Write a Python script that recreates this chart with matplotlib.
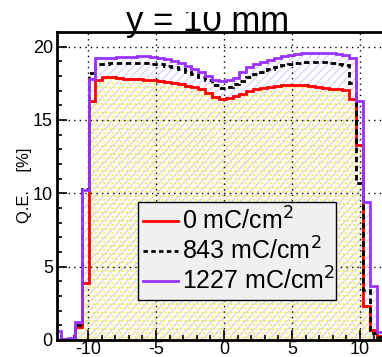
import numpy as np
import matplotlib
matplotlib.use("Agg")
import matplotlib.pyplot as plt
from matplotlib.lines import Line2D
from matplotlib.transforms import Bbox

plt.rcParams['font.family'] = ['Liberation Sans', 'DejaVu Sans']
plt.rcParams['axes.unicode_minus'] = False
plt.rcParams['hatch.linewidth'] = 0.8

# ---- data ----
bin_edges = np.linspace(-12.48, 11.73, 49)

qe_0 = [0.0, 0.05, 0.1, 0.9, 3.9, 16.28, 17.76, 17.9, 17.9, 17.85,
        17.82, 17.8, 17.78, 17.76, 17.72, 17.68, 17.62, 17.55, 17.48, 17.35,
        17.22, 17.1, 16.85, 16.55, 16.4, 16.48, 16.62, 16.8, 16.95, 17.1,
        17.2, 17.28, 17.35, 17.4, 17.42, 17.4, 17.36, 17.3, 17.25, 17.2,
        17.12, 17.1, 17.07, 16.4, 13.3, 2.3, 0.7, 0.3]

qe_843 = [0.05, 0.05, 0.1, 1.0, 10.3, 18.2, 18.8, 18.82, 18.88, 18.9,
          18.9, 18.9, 18.9, 18.88, 18.85, 18.8, 18.7, 18.62, 18.48, 18.3,
          18.15, 17.95, 17.7, 17.4, 17.2, 17.28, 17.45, 17.65, 17.95, 18.15,
          18.3, 18.5, 18.6, 18.72, 18.82, 18.9, 18.93, 18.95, 18.95, 18.93,
          18.9, 18.85, 18.78, 17.5, 10.7, 3.4, 0.5, 0.2]

qe_1227 = [0.6, 0.1, 0.15, 1.2, 10.2, 17.8, 19.2, 19.22, 19.25, 19.28,
           19.3, 19.3, 19.33, 19.33, 19.3, 19.25, 19.15, 19.05, 18.9, 18.7,
           18.5, 18.3, 18.0, 17.75, 17.65, 17.7, 17.85, 18.3, 18.6, 18.8,
           18.95, 19.12, 19.25, 19.35, 19.45, 19.5, 19.55, 19.58, 19.58, 19.58,
           19.55, 19.5, 19.46, 19.24, 16.3, 9.4, 3.7, 0.55]

labels = ["0 mC/cm$^2$", "843 mC/cm$^2$", "1227 mC/cm$^2$"]
x_ticks = [-10, -5, 0, 5, 10]
y_ticks = [0, 5, 10, 15, 20]
title = "y = 10 mm"
ylabel = "Q.E.    [%]"

# ---- figure ----
W, H = 382, 357
fig = plt.figure(figsize=(W / 100, H / 100), dpi=100)
ax_w = 0.86
ax = fig.add_axes([57 / W, 17 / H, ax_w, 308 / H])
ax.set_xlim(-12.28, -12.28 + ax_w * W / 13.6)
ax.set_ylim(0, 21)

red = '#ff0000'
purple = '#9933ff'

# fills
ax.stairs(qe_0, bin_edges, fill=True, facecolor='#fffff4', edgecolor='#f4ee30',
          hatch='....', linewidth=0, zorder=1)
ax.stairs(qe_1227, bin_edges, fill=True, facecolor='none', edgecolor='#d8ccff',
          hatch='////', linewidth=0, zorder=1.5)

# grid
ax.set_xticks(x_ticks)
ax.set_yticks(y_ticks)
ax.grid(True, color='black', linestyle=(0, (1, 3)), linewidth=1.0, zorder=2)
ax.set_axisbelow(False)

# outlines
ax.stairs(qe_0, bin_edges, color=red, linewidth=2.0, zorder=3)
ax.stairs(qe_843, bin_edges, color='black', linewidth=2.0,
          linestyle=(0, (2, 1.3)), zorder=3.2)
ax.stairs(qe_1227, bin_edges, color=purple, linewidth=2.0, zorder=3.4)

ax.set_xticks(np.arange(-12, 12, 1), minor=True)
ax.set_yticks(np.arange(0, 21, 1), minor=True)
ax.set_xticklabels([str(v) for v in x_ticks])
ax.set_yticklabels([str(v) for v in y_ticks])
ax.tick_params(which='major', direction='in', length=7.5, width=1.2,
               labelsize=13, pad=1, top=False, right=False)
ax.tick_params(which='minor', direction='in', length=3.8, width=1.2,
               top=False, right=False)
ax.tick_params(axis='y', which='major', pad=3)
for s in ax.spines.values():
    s.set_linewidth(2.0)
    s.set_zorder(5)

fig.text(25 / W, (H - 185) / H, ylabel, fontsize=12, rotation=90,
         ha='center', va='center')

handles = [Line2D([], [], color=red, lw=2.0),
           Line2D([], [], color='black', lw=2.0, linestyle=(0, (1.6, 1.2))),
           Line2D([], [], color=purple, lw=2.0)]
axw_px = ax_w * W
leg = ax.legend(handles, labels, loc='lower left',
                bbox_to_anchor=((138 - 57) / axw_px, 40 / 308,
                                198 / axw_px, 97 / 308),
                mode='expand', borderaxespad=0, fontsize=18,
                handlelength=1.4, handletextpad=0.15, labelspacing=0.12,
                borderpad=0.2, fancybox=False, framealpha=1,
                facecolor='#f0f0f0', edgecolor='black')
leg.get_frame().set_linewidth(1.0)
leg.set_zorder(6)

t = fig.text(208 / W, (H - 31) / H, title, fontsize=25, ha='center',
             va='baseline', zorder=10)
t.set_clip_box(Bbox.from_extents(0, 0, W, H - 12))
t.set_clip_on(True)

fig.savefig("out.png", dpi=100)
